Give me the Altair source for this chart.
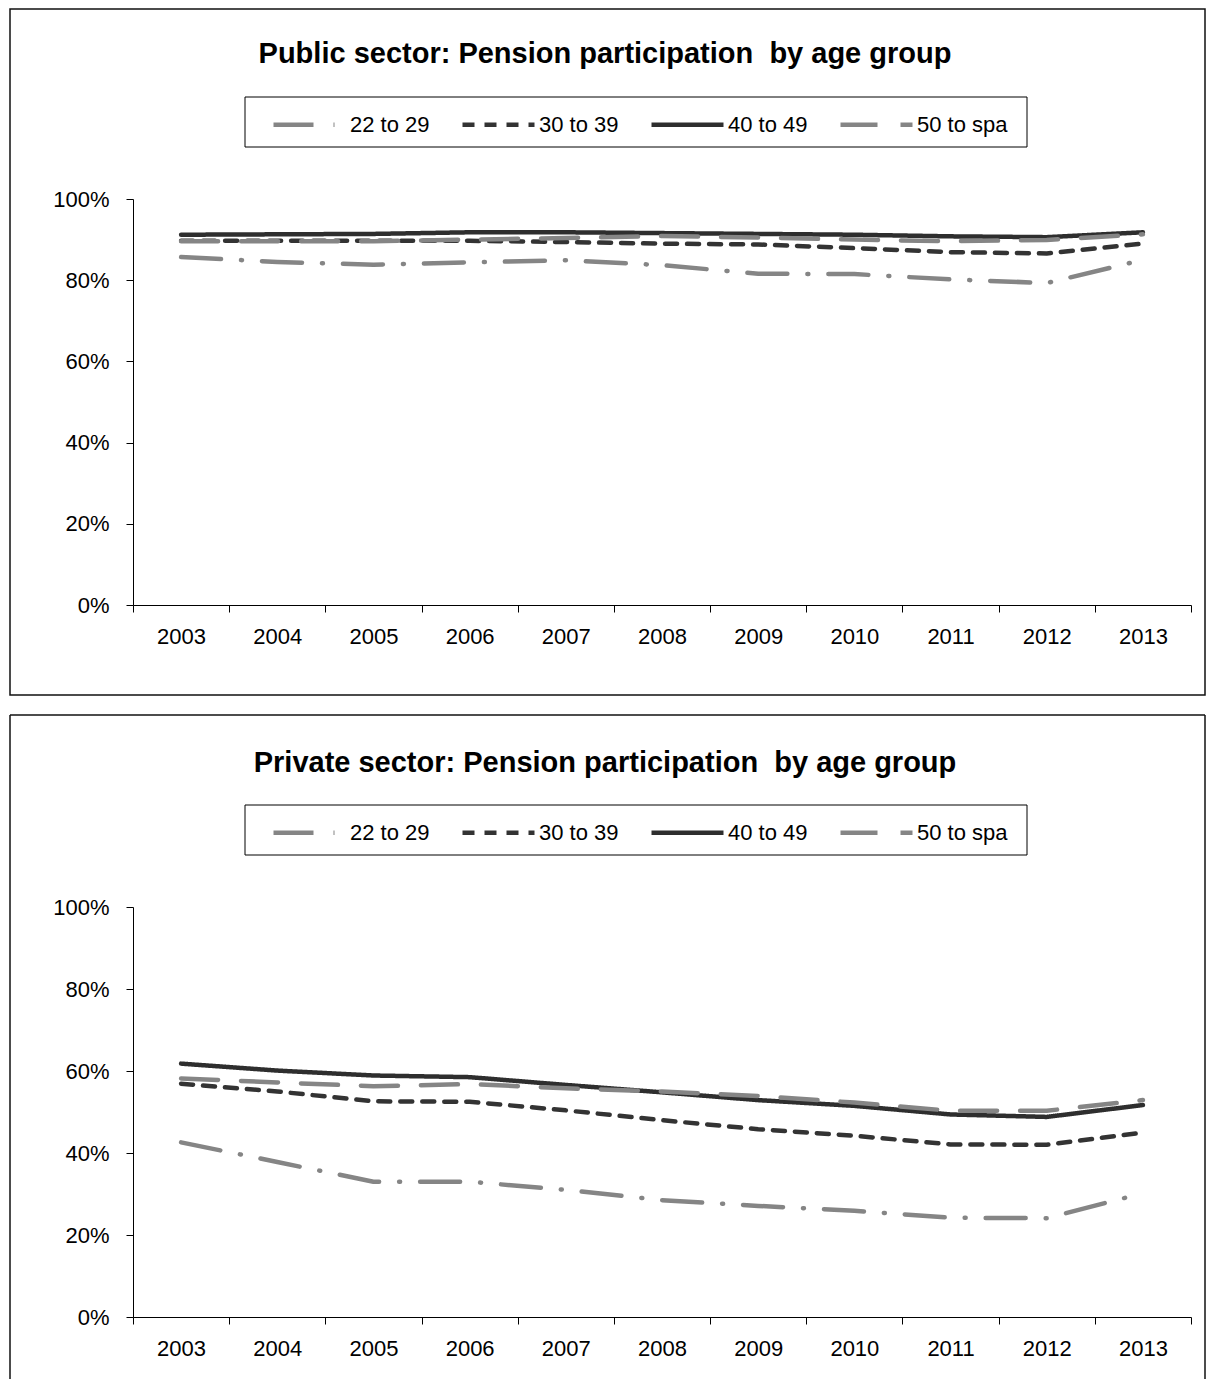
import altair as alt
import pandas as pd

years = [2003, 2004, 2005, 2006, 2007, 2008, 2009, 2010, 2011, 2012, 2013]
groups = ["22 to 29", "30 to 39", "40 to 49", "50 to spa"]

# Public sector (percent)
pub_22_29 = [85.7, 84.5, 83.8, 84.4, 84.9, 83.7, 81.6, 81.5, 80.2, 79.3, 85.0]
pub_30_39 = [89.7, 89.7, 89.7, 89.7, 89.4, 89.0, 88.8, 87.9, 86.9, 86.6, 89.0]
pub_40_49 = [91.2, 91.3, 91.4, 91.8, 91.8, 91.6, 91.4, 91.2, 90.8, 90.6, 91.8]
pub_50_spa = [89.6, 89.6, 89.6, 90.0, 90.4, 90.9, 90.5, 90.0, 89.6, 89.9, 91.3]

# Private sector (percent)
prv_22_29 = [42.6, 37.8, 33.0, 33.0, 31.0, 28.5, 27.1, 25.9, 24.2, 24.1, 30.2]
prv_30_39 = [56.9, 55.0, 52.6, 52.5, 50.4, 48.0, 45.8, 44.2, 42.1, 42.0, 45.0]
prv_40_49 = [61.8, 60.1, 58.9, 58.5, 56.6, 54.8, 52.9, 51.5, 49.4, 48.8, 51.7]
prv_50_spa = [58.2, 57.2, 56.3, 56.8, 55.8, 55.0, 53.9, 52.3, 50.3, 50.3, 52.9]

y_ticks = [0, 20, 40, 60, 80, 100]

titles = [
    "Public sector: Pension participation\u00a0 by age group",
    "Private sector: Pension participation\u00a0 by age group",
]

colors = ["#858585", "#333333", "#2e2e2e", "#858585"]
dashes = [[40, 20, 1, 20], [12, 10], [1, 0], [37, 23]]

FONT = "Liberation Sans"
W = 1058
FRAME = "#111111"
FRAME_L = -123
FRAME_R = 1072


def to_df(series_lists):
    rows = []
    for g, vals in zip(groups, series_lists):
        for yr, v in zip(years, vals):
            rows.append({"year": str(yr), "group": g, "value": v})
    return pd.DataFrame(rows)


def panel(df, title, H, frame_top, frame_bottom, title_y, closed):
    leg = alt.Legend(title=None)
    lines = alt.Chart(df).mark_line(
        strokeWidth=4.5, strokeCap="round", strokeJoin="round"
    ).encode(
        x=alt.X(
            "year:O",
            bandPosition=0.5,
            scale=alt.Scale(type="band", paddingInner=0, paddingOuter=0),
            axis=alt.Axis(title=None, tickBand="extent", labelAngle=0,
                          tickSize=7, labelPadding=14),
        ),
        y=alt.Y(
            "value:Q",
            scale=alt.Scale(domain=[0, 100], nice=False),
            axis=alt.Axis(title=None, values=y_ticks, labelExpr="datum.value + '%'",
                          tickSize=7, labelPadding=17, grid=False),
        ),
        color=alt.Color("group:N", scale=alt.Scale(domain=groups, range=colors), legend=leg),
        strokeDash=alt.StrokeDash("group:N", scale=alt.Scale(domain=groups, range=dashes), legend=leg),
    )
    dummy = pd.DataFrame({"a": [0]})
    layers = []
    if closed:
        layers.append(
            alt.Chart(dummy).mark_rect(fillOpacity=0, stroke=FRAME, strokeWidth=1.5).encode(
                x=alt.value(FRAME_L), x2=alt.value(FRAME_R), y=alt.value(frame_top), y2=alt.value(frame_bottom)
            )
        )
    else:
        layers.append(alt.Chart(dummy).mark_rule(color=FRAME, strokeWidth=1.5).encode(
            x=alt.value(FRAME_L), y=alt.value(frame_top), y2=alt.value(frame_bottom)))
        layers.append(alt.Chart(dummy).mark_rule(color=FRAME, strokeWidth=1.5).encode(
            x=alt.value(FRAME_R), y=alt.value(frame_top), y2=alt.value(frame_bottom)))
        layers.append(alt.Chart(dummy).mark_rule(color=FRAME, strokeWidth=1.5).encode(
            x=alt.value(FRAME_L), x2=alt.value(FRAME_R), y=alt.value(frame_top)))
    # legend box
    layers.append(
        alt.Chart(dummy).mark_rect(fillOpacity=0, stroke="#000000", strokeWidth=1).encode(
            x=alt.value(112), x2=alt.value(894), y=alt.value(-102), y2=alt.value(-52)
        )
    )
    # title
    layers.append(
        alt.Chart(dummy).mark_text(
            font=FONT, fontSize=29, fontWeight="bold", color="#000000",
            align="center", baseline="alphabetic",
        ).encode(x=alt.value(472), y=alt.value(title_y), text=alt.value(title))
    )
    layers.append(lines)
    return alt.layer(*layers).properties(width=W, height=H)


top_chart = panel(to_df([pub_22_29, pub_30_39, pub_40_49, pub_50_spa]),
                  titles[0], 406, -190, 496, -136, True)
bottom_chart = panel(to_df([prv_22_29, prv_30_39, prv_40_49, prv_50_spa]),
                     titles[1], 410, -192, 472, -135, False)

chart = alt.vconcat(top_chart, bottom_chart, spacing=18).resolve_scale(
    color="independent", strokeDash="independent"
).configure(
    padding={"left": 1, "top": 0, "right": 0, "bottom": 0}
).configure_view(
    strokeWidth=0
).configure_axis(
    labelFont=FONT, labelFontSize=22, labelColor="#000000",
    domainColor="#000000", tickColor="#000000", domainWidth=1, tickWidth=1, grid=False,
).configure_legend(
    orient="none", direction="horizontal", legendX=138, legendY=-113,
    padding=0, symbolType="stroke", symbolSize=5184,
    symbolStrokeWidth=4.5, labelFont=FONT, labelFontSize=22, labelColor="#000000",
    labelOffset=2, columnPadding=23,
)

chart.save("out.html", embed_options={"renderer": "svg", "actions": False})
